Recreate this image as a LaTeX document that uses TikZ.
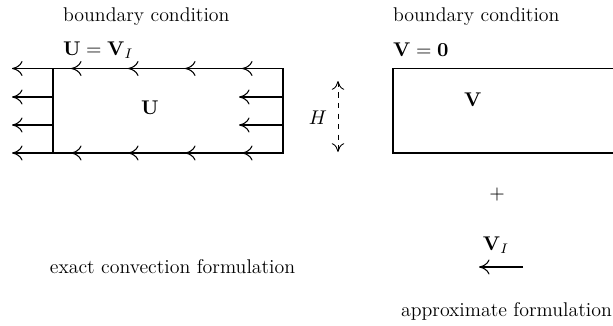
\documentclass[tikz,border=0pt]{standalone}
\usepackage{fix-cm}
\usepackage{amsmath}
\usetikzlibrary{arrows.meta,positioning}
\tikzset{
  flow/.style={-{To[length=6pt,width=8.5pt]}, line width=0.6pt},
  wall/.style={line width=0.9pt},
  lbl/.style={inner sep=1pt, font=\fontsize{11.3}{13.6}\selectfont}
}

\begin{document}
\begin{tikzpicture}
\useasboundingbox (0,0) rectangle (12.26,-6.52);
% left domain, exact convection
\coordinate (UNW) at (1.06,-1.37);
\coordinate (UNE) at (5.66,-1.37);
\coordinate (USW) at (1.06,-3.06);
\coordinate (USE) at (5.66,-3.06);
\draw[wall] (UNW) -- (UNE) -- (USE) -- (USW) -- cycle;
\foreach \x in {5.66,4.52,3.38,2.24}
  {\draw[flow] (\x,-1.37) -- ++(-0.82,0);
   \draw[flow] (\x,-3.06) -- ++(-0.82,0);}
\foreach \y in {1.37,1.94,2.50,3.06}
  \draw[flow] (1.06,-\y) -- (0.24,-\y);
\foreach \y in {1.94,2.50}
  \draw[flow] (5.66,-\y) -- (4.78,-\y);
\node[lbl, anchor=west] (bcU) at (1.22,-0.34) {boundary condition};
\node[lbl, anchor=west] (eqU) at (1.22,-1.00) {$\mathbf{U}=\mathbf{V}_I$};
\node[lbl] (U) at (3.00,-2.16) {$\mathbf{U}$};
\node[lbl] (exact) at (3.45,-5.34) {exact convection formulation};

% height of the channel
\coordinate (Htop) at (6.76,-1.62);
\coordinate (Hbot) at (6.76,-3.04);
\draw[{To[length=5pt,width=7pt]}-{To[length=5pt,width=7pt]}, dashed, line width=0.5pt] (Htop) -- (Hbot);
\node[lbl] (H) at (6.36,-2.36) {$H$};

% right domain, approximate
\coordinate (VNW) at (7.86,-1.37);
\coordinate (VNE) at (12.26,-1.37);
\coordinate (VSW) at (7.86,-3.06);
\coordinate (VSE) at (12.26,-3.06);
\draw[wall] (VNE) -- (VNW) -- (VSW) -- (VSE);
\node[lbl, anchor=west] (bcV) at (7.82,-0.34) {boundary condition};
\node[lbl, anchor=west] (eqV) at (7.82,-1.00) {$\mathbf{V}=\mathbf{0}$};
\node[lbl] (V) at (9.46,-2.00) {$\mathbf{V}$};
\node[lbl] (plus) at (9.94,-3.90) {$+$};
\node[lbl] (VI) at (9.92,-4.90) {$\mathbf{V}_I$};
\coordinate (VIr) at (10.46,-5.34);
\coordinate (VIl) at (9.58,-5.34);
\draw[flow] (VIr) -- (VIl);
\node[lbl, anchor=west] (approx) at (7.98,-6.22) {approximate formulation};
\end{tikzpicture}
\end{document}
